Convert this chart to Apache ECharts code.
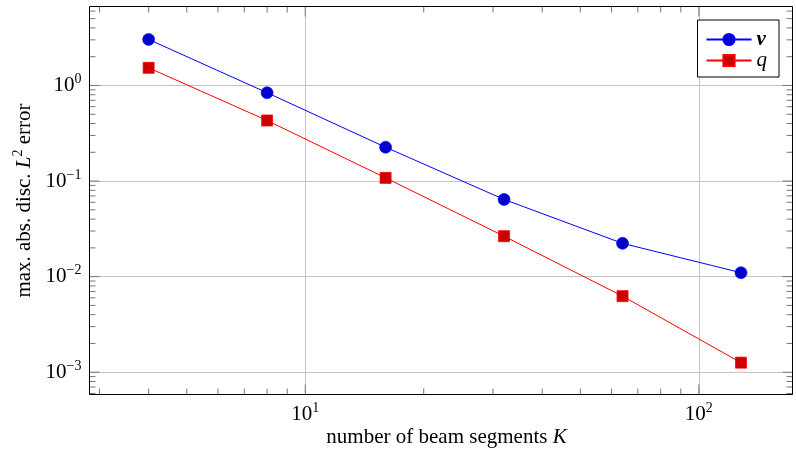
<!DOCTYPE html>
<html>
<head>
<meta charset="utf-8">
<script src="https://cdn.jsdelivr.net/npm/echarts@6/dist/echarts.min.js"></script>
<style>
  html, body { margin: 0; padding: 0; background: #fff; }
  #chart { width: 796px; height: 457px; }
</style>
</head>
<body>
<div id="chart"></div>
<script>
// number of beam segments K
const segments = [4, 8, 16, 32, 64, 128];
// max. abs. disc. L2 error
const errV = [3.03, 0.839, 0.226, 0.0642, 0.0223, 0.0110];
const errQ = [1.53, 0.430, 0.108, 0.0265, 0.00625, 0.00126];

// tick values (log axes)
const xMajor = [10, 100];
const xMinor = [3, 4, 5, 6, 7, 8, 9, 20, 30, 40, 50, 60, 70, 80, 90];
const yMajor = [1e-3, 1e-2, 1e-1, 1];
const yMinor = [6e-4, 7e-4, 8e-4, 9e-4,
  2e-3, 3e-3, 4e-3, 5e-3, 6e-3, 7e-3, 8e-3, 9e-3,
  2e-2, 3e-2, 4e-2, 5e-2, 6e-2, 7e-2, 8e-2, 9e-2,
  0.2, 0.3, 0.4, 0.5, 0.6, 0.7, 0.8, 0.9,
  2, 3, 4, 5, 6];

const FONT = '"Liberation Serif", "DejaVu Serif", serif';

const chart = echarts.init(document.getElementById('chart'));

// pgfplots-like 10^n labels
function powLabel(val) {
  const e = Math.log10(val);
  if (Math.abs(e - Math.round(e)) > 1e-6) return '';
  const n = Math.round(e);
  return '{b|10}{s|' + (n < 0 ? '\u2212' + (-n) : n) + '}';
}
const powRich = {
  b: { fontSize: 21, lineHeight: 21, fontFamily: FONT, color: '#000' },
  s: { fontSize: 14, lineHeight: 14, fontFamily: FONT, color: '#000', padding: [0, 0, 12, 0] }
};

// inner ticks on all four sides
function xTicks(params, api) {
  const cs = params.coordSys;
  const x = api.coord([api.value(0), 1])[0];
  const len = api.value(2) ? 10 : 6;
  const st = { stroke: '#777', lineWidth: 1 };
  return {
    type: 'group',
    children: [
      { type: 'line', shape: { x1: x, y1: cs.y + cs.height, x2: x, y2: cs.y + cs.height - len }, style: st },
      { type: 'line', shape: { x1: x, y1: cs.y, x2: x, y2: cs.y + len }, style: st }
    ]
  };
}
function yTicks(params, api) {
  const cs = params.coordSys;
  const y = api.coord([10, api.value(1)])[1];
  const len = api.value(2) ? 10 : 6;
  const st = { stroke: '#777', lineWidth: 1 };
  return {
    type: 'group',
    children: [
      { type: 'line', shape: { x1: cs.x, y1: y, x2: cs.x + len, y2: y }, style: st },
      { type: 'line', shape: { x1: cs.x + cs.width, y1: y, x2: cs.x + cs.width - len, y2: y }, style: st }
    ]
  };
}
// black frame on top of the boundary split lines
function frame(params) {
  const cs = params.coordSys;
  return {
    type: 'rect',
    shape: { x: cs.x, y: cs.y, width: cs.width, height: cs.height },
    style: { fill: null, stroke: '#000', lineWidth: 1 }
  };
}

const xTickData = xMajor.map(v => [v, 1, 1]).concat(xMinor.map(v => [v, 1, 0]));
const yTickData = yMajor.map(v => [10, v, 1]).concat(yMinor.map(v => [10, v, 0]));

const option = {
  backgroundColor: '#fff',
  animation: false,
  grid: {
    left: 89.5, right: 3.5, top: 6.5, bottom: 62.5
  },
  xAxis: {
    type: 'log',
    logBase: 10,
    min: 2.83,
    max: 173,
    name: 'number of beam segments {i|K}',
    nameLocation: 'middle',
    nameGap: 32,
    nameMoveOverlap: false,
    nameTextStyle: {
      fontFamily: FONT, fontSize: 21, color: '#000', padding: [0, 0, 0, 11],
      rich: { i: { fontFamily: FONT, fontSize: 21, fontStyle: 'italic', color: '#000' } }
    },
    axisLine: { show: false },
    axisTick: { show: false },
    splitLine: { show: true, lineStyle: { color: '#c4c4c4', width: 1 } },
    axisLabel: {
      margin: 9,
      showMinLabel: false, showMaxLabel: false,
      formatter: powLabel,
      rich: powRich
    }
  },
  yAxis: {
    type: 'log',
    logBase: 10,
    min: 5.85e-4,
    max: 6.7,
    name: 'max. abs. disc. {i|L}{s|2} error',
    nameLocation: 'middle',
    nameGap: 55,
    nameMoveOverlap: false,
    nameTextStyle: {
      fontFamily: FONT, fontSize: 21, color: '#000',
      rich: {
        i: { fontFamily: FONT, fontSize: 21, fontStyle: 'italic', color: '#000', lineHeight: 21 },
        s: { fontFamily: FONT, fontSize: 14, color: '#000', lineHeight: 14, padding: [0, 0, 12, 0] }
      }
    },
    axisLine: { show: false },
    axisTick: { show: false },
    splitLine: { show: true, lineStyle: { color: '#c4c4c4', width: 1 } },
    axisLabel: {
      margin: 8,
      showMinLabel: false, showMaxLabel: false,
      formatter: powLabel,
      rich: powRich
    }
  },
  legend: {
    data: ['v', 'q'],
    orient: 'vertical',
    right: 17,
    top: 20,
    itemWidth: 45,
    itemHeight: 14,
    itemGap: 0,
    padding: [9, 12, 6, 8],
    backgroundColor: '#fff',
    borderColor: '#000',
    borderWidth: 1,
    borderRadius: 0,
    selectedMode: false,
    formatter: name => '{' + name + '|' + name + '}',
    textStyle: {
      fontFamily: FONT,
      fontSize: 21,
      lineHeight: 18,
      color: '#000',
      rich: {
        v: { fontFamily: FONT, fontSize: 21, lineHeight: 18, fontStyle: 'italic', fontWeight: 'bold', color: '#000' },
        q: { fontFamily: FONT, fontSize: 21, lineHeight: 18, fontStyle: 'italic', color: '#000' }
      }
    }
  },
  series: [
    {
      type: 'custom',
      renderItem: xTicks,
      data: xTickData,
      silent: true,
      z: 1
    },
    {
      type: 'custom',
      renderItem: yTicks,
      data: yTickData,
      silent: true,
      z: 1
    },
    {
      type: 'custom',
      renderItem: frame,
      data: [[10, 1]],
      silent: true,
      z: 2
    },
    {
      name: 'v',
      type: 'line',
      data: segments.map((k, i) => [k, errV[i]]),
      symbol: 'circle',
      symbolSize: 12,
      lineStyle: { color: '#0000ff', width: 1 },
      itemStyle: { color: '#0000cc', borderColor: '#0000ff', borderWidth: 0.6 },
      z: 3
    },
    {
      name: 'q',
      type: 'line',
      data: segments.map((k, i) => [k, errQ[i]]),
      symbol: 'rect',
      symbolSize: 11,
      lineStyle: { color: '#ff0000', width: 1 },
      itemStyle: { color: '#cc0000', borderColor: '#ff0000', borderWidth: 0.8 },
      z: 3
    }
  ]
};

chart.setOption(option);
</script>
</body>
</html>
